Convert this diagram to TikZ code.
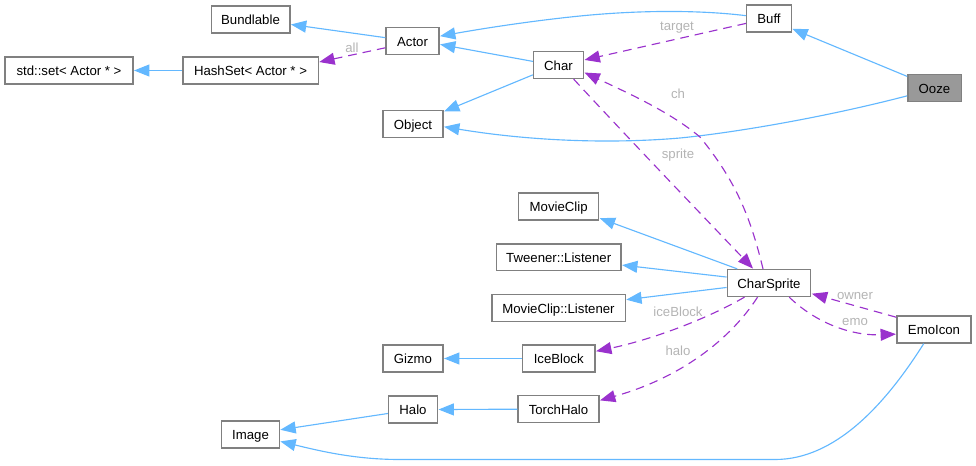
\documentclass[tikz,border=0pt]{standalone}
\usepackage{fontspec}
\setmainfont{Liberation Sans}
\usetikzlibrary{arrows.meta}
\definecolor{inherit}{HTML}{63B8FF}
\definecolor{member}{HTML}{9A32CD}
\definecolor{boxline}{HTML}{808080}
\definecolor{lbl}{HTML}{B4B4B4}
\begin{document}
\begin{tikzpicture}[
x=0.75pt,y=-0.75pt,
every node/.append style={font={\fontsize{9.9pt}{11pt}\selectfont},text height=9.5pt,text depth=2pt},
cls/.style={draw=boxline,line width=1pt,fill=white,minimum height=20.2pt,inner sep=0pt},
self/.style={cls,fill=black!40},
comm/.style={-{Triangle[length=11.5pt,width=9pt]},line width=0.85pt,color=inherit,shorten >=0.3pt},
assoc/.style={comm,color=member,dash pattern=on 6.5pt off 4.5pt},
msg/.style={text=lbl,inner sep=0pt},
]
\useasboundingbox (0,0) rectangle (976,465);

\node[cls,minimum width=59pt] (Bundlable) at (250.5,19.5) {Bundlable};
\node[cls,minimum width=39.7pt] (Actor) at (412.5,41) {Actor};
\node[cls,minimum width=96pt] (StdSet) at (69,70.5) {std::set< Actor * >};
\node[cls,minimum width=101.5pt] (HashSet) at (250.5,70.5) {HashSet< Actor * >};
\node[cls,minimum width=45pt] (Object) at (413,124) {Object};
\node[cls,minimum width=33.5pt] (Buff) at (769,18.5) {Buff};
\node[cls,minimum width=37.5pt] (Char) at (558.5,65) {Char};
\node[self,minimum width=40pt] (Ooze) at (934.5,88) {Ooze};
\node[cls,minimum width=60pt] (MovieClip) at (558.7,206.4) {MovieClip};
\node[cls,minimum width=93.5pt] (Tweener) at (558.7,257.3) {Tweener::Listener};
\node[cls,minimum width=62.7pt] (CharSprite) at (769,283) {CharSprite};
\node[cls,minimum width=100pt] (Listener) at (558.5,308) {MovieClip::Listener};
\node[cls,minimum width=54.5pt] (IceBlock) at (558.7,358.5) {IceBlock};
\node[cls,minimum width=60.7pt] (TorchHalo) at (558.5,409.2) {TorchHalo};
\node[cls,minimum width=55.5pt] (EmoIcon) at (934,329.5) {EmoIcon};
\node[cls,minimum width=45pt] (Gizmo) at (413,358.5) {Gizmo};
\node[cls,minimum width=36.7pt] (Halo) at (413,409.5) {Halo};
\node[cls,minimum width=43.2pt] (Image) at (250.5,434.5) {Image};

\node[msg] (lAll) at (352,47.75) {all};
\node[msg] (lTarget) at (677,25.75) {target};
\node[msg] (lCh) at (678,93) {ch};
\node[msg] (lSprite) at (678,153) {sprite};
\node[msg] (lIce) at (678,311.25) {iceBlock};
\node[msg] (lHalo) at (678,350.25) {halo};
\node[msg] (lOwner) at (855,294.5) {owner};
\node[msg] (lEmo) at (855,320.5) {emo};

\draw[comm] (Actor.173.5)--(Bundlable.-7.2);
\draw[comm] (HashSet.west)--(StdSet.east);
\draw[assoc] (Actor.194.8)--(HashSet.7.5);
\draw[comm] (Char.172)--(Actor.-7.2);
\draw[comm] (Buff.173.6) .. controls (700,10) and (640,10) .. (580,16) .. controls (530,21) and (480,29) .. (Actor.10.3);
\draw[comm] (Char.201.8)--(Object.22.3);
\draw[comm] (Ooze.196.6) .. controls (830,116) and (740,132) .. (680,138) .. controls (610,144) and (530,141) .. (Object.-5.7);
\draw[comm] (Ooze.157.7)--(Buff.-24.1);
\draw[assoc] (Buff.192.6)--(Char.11);

\draw[assoc] (Char.-43) .. controls (630,140) and (700,213) .. (CharSprite.138.2);
\draw[assoc] (CharSprite.113) .. controls (750,215) and (735,180) .. (700,137) .. controls (670,112) and (630,94) .. (Char.-16.7);
\draw[comm] (CharSprite.156.4)--(MovieClip.-16.6);
\draw[comm] (CharSprite.172.3)--(Tweener.-7);
\draw[comm] (CharSprite.186.4)--(Listener.7.4);
\draw[assoc] (CharSprite.210.2) .. controls (705,320) and (650,340) .. (IceBlock.11.6);
\draw[assoc] (CharSprite.231.4) .. controls (730,340) and (680,378) .. (TorchHalo.12.8);
\draw[comm] (IceBlock.west)--(Gizmo.east);
\draw[comm] (TorchHalo.west)--(Halo.east);
\draw[comm] (Halo.189.3)--(Image.9.8);
\draw[comm] (EmoIcon.234.5) .. controls (885,405) and (835,459.5) .. (775,459.5) -- (400,459.5) .. controls (355,459.5) and (320,451) .. (Image.-13.9);
\draw[assoc] (CharSprite.-35.6) .. controls (815,322) and (850,336) .. (EmoIcon.187);
\draw[assoc] (EmoIcon.162.7)--(CharSprite.-14.7);

\end{tikzpicture}
\end{document}
